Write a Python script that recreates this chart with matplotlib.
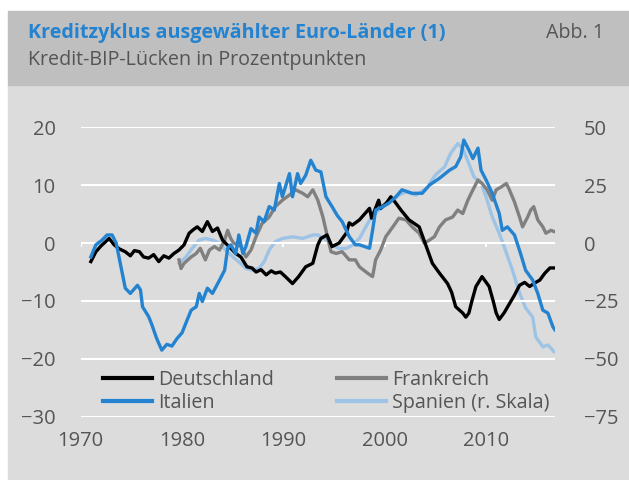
import matplotlib
matplotlib.use('Agg')
import matplotlib.pyplot as plt
from matplotlib.patches import Rectangle

plt.rcParams['font.family'] = ['Open Sans', 'DejaVu Sans']

# Kredit-BIP-Luecken (Prozentpunkte)
de_years = [1971.0, 1971.5, 1972.0, 1972.5, 1972.8, 1973.3, 1973.8, 1974.4, 1974.9, 1975.3,
            1975.8, 1976.2, 1976.7, 1977.2, 1977.7, 1978.2, 1978.7, 1979.2, 1979.7, 1980.2,
            1980.7, 1981.1, 1981.5, 1982.0, 1982.5, 1983.0, 1983.5, 1984.0, 1984.8, 1985.3,
            1985.8, 1986.4, 1986.9, 1987.3, 1987.8, 1988.3, 1988.8, 1989.2, 1989.7, 1990.2,
            1990.9, 1991.5, 1992.2, 1992.9, 1993.4, 1993.7, 1994.3, 1994.8, 1995.5, 1996.2,
            1996.5, 1996.8, 1997.5, 1998.0, 1998.5, 1998.7, 1999.4, 1999.6, 2000.2, 2000.6,
            2001.1, 2001.6, 2002.4, 2003.4, 2004.1, 2004.7, 2005.4, 2006.2, 2006.6, 2007.0,
            2007.7, 2008.0, 2008.3, 2008.6, 2009.0, 2009.6, 2010.3, 2010.7, 2011.0, 2011.3,
            2011.8, 2012.3, 2012.8, 2013.3, 2013.8, 2014.3, 2014.8, 2015.3, 2015.8, 2016.3,
            2016.8]
de_vals = [-3.2, -1.5, -0.5, 0.3, 0.8, -0.3, -1.0, -1.5, -2.2, -1.3,
           -1.5, -2.4, -2.6, -2.0, -3.2, -2.2, -2.6, -1.8, -1.2, -0.3,
           1.7, 2.3, 2.8, 2.0, 3.7, 2.0, 2.6, 0.5, -0.9, -1.8,
           -2.4, -4.1, -4.3, -5.0, -4.6, -5.5, -4.8, -5.2, -5.0, -5.8,
           -7.0, -5.8, -4.1, -3.5, -0.3, 0.8, 1.4, -0.6, 0.0, 1.7,
           3.5, 3.1, 4.0, 5.0, 6.0, 4.3, 7.4, 6.0, 7.0, 8.0,
           6.9, 5.7, 4.0, 2.8, -0.6, -3.5, -5.2, -7.0, -8.5, -11.0,
           -12.1, -12.8, -12.1, -10.0, -7.5, -5.8, -7.5, -10.0, -12.1, -13.2,
           -12.0, -10.5, -9.0, -7.3, -6.8, -7.5, -6.9, -6.4, -5.2, -4.3,
           -4.3]

it_years = [1971.0, 1971.5, 1972.1, 1972.6, 1973.1, 1973.5, 1973.8, 1974.1, 1974.4, 1974.9,
            1975.6, 1975.9, 1976.1, 1976.7, 1977.0, 1977.5, 1978.0, 1978.5, 1979.0, 1979.5,
            1980.0, 1980.5, 1980.9, 1981.4, 1981.7, 1982.0, 1982.5, 1983.0, 1983.7, 1984.2,
            1984.5, 1984.8, 1985.3, 1985.6, 1986.0, 1986.3, 1986.8, 1987.3, 1987.6, 1988.1,
            1988.6, 1989.1, 1989.6, 1989.9, 1990.6, 1990.9, 1991.4, 1991.7, 1992.2, 1992.7,
            1993.2, 1993.7, 1994.2, 1994.8, 1995.3, 1995.8, 1996.5, 1997.1, 1997.5, 1998.5,
            1998.8, 1999.1, 1999.8, 2000.4, 2001.1, 2001.7, 2002.7, 2003.7, 2004.4, 2005.4,
            2006.4, 2007.0, 2007.5, 2007.8, 2008.3, 2008.7, 2009.2, 2009.5, 2010.0, 2010.6,
            2011.3, 2011.6, 2012.1, 2012.8, 2013.4, 2013.9, 2014.6, 2015.1, 2015.6, 2016.1,
            2016.6, 2016.8]
it_vals = [-2.4, -0.3, 0.5, 1.4, 1.4, 0.0, -2.6, -5.2, -7.8, -8.7,
           -7.3, -8.1, -11.0, -12.7, -14.0, -16.5, -18.5, -17.5, -17.8, -16.5,
           -15.5, -13.3, -11.6, -11.0, -8.7, -10.1, -7.8, -8.7, -6.4, -4.7,
           -0.9, -0.3, -1.8, 1.4, -1.8, -0.6, 2.5, 1.7, 4.5, 3.7,
           6.3, 5.7, 10.3, 8.0, 12.0, 8.0, 12.0, 10.3, 11.7, 14.3,
           12.6, 12.3, 8.0, 6.3, 4.8, 3.7, 1.1, -0.3, -0.3, -0.9,
           2.2, 5.7, 6.3, 6.9, 8.0, 9.2, 8.6, 8.6, 10.0, 11.2,
           12.6, 13.2, 14.9, 17.8, 16.1, 14.6, 16.4, 12.6, 10.9, 8.6,
           5.1, 2.2, 2.8, 1.4, -1.8, -4.7, -6.4, -8.7, -11.6, -12.1,
           -14.5, -15.0]

fr_years = [1979.7, 1979.9, 1980.2, 1980.9, 1981.4, 1981.8, 1982.3, 1982.7, 1983.2, 1983.7,
            1984.2, 1984.5, 1984.8, 1985.1, 1985.8, 1986.3, 1986.8, 1987.3, 1987.9, 1988.6,
            1989.2, 1989.9, 1990.6, 1991.2, 1991.9, 1992.4, 1992.9, 1993.4, 1993.9, 1994.2,
            1994.7, 1995.2, 1995.8, 1996.5, 1997.1, 1997.5, 1998.3, 1998.8, 1999.1, 1999.6,
            2000.1, 2000.8, 2001.4, 2002.1, 2002.7, 2003.4, 2003.9, 2004.4, 2004.9, 2005.4,
            2006.0, 2006.7, 2007.2, 2007.7, 2008.2, 2008.7, 2009.2, 2009.6, 2010.1, 2010.6,
            2011.0, 2011.5, 2012.0, 2012.3, 2012.8, 2013.3, 2013.6, 2014.1, 2014.4, 2014.7,
            2015.1, 2015.6, 2015.9, 2016.4, 2016.7]
fr_vals = [-2.9, -4.4, -3.5, -2.4, -1.8, -0.9, -2.9, -1.2, -0.6, -1.2,
           0.5, 2.2, 0.8, 0.0, -0.6, -2.4, -1.2, 1.1, 3.4, 4.5,
           6.3, 7.4, 8.3, 9.2, 8.6, 8.0, 9.2, 7.4, 4.5, 2.2,
           -1.5, -1.8, -1.5, -2.9, -2.9, -4.1, -5.2, -5.8, -2.9, -1.2,
           1.1, 2.8, 4.3, 4.0, 2.8, 1.7, 0.0, 0.5, 1.1, 2.8,
           4.0, 4.5, 5.7, 5.1, 7.4, 9.2, 10.9, 10.3, 9.2, 7.4,
           9.2, 9.7, 10.3, 9.2, 7.1, 4.5, 2.8, 4.5, 5.7, 6.3,
           4.0, 2.8, 1.7, 2.2, 2.0]

# Spanien auf rechter Skala
es_years = [1979.7, 1980.4, 1981.0, 1981.7, 1982.3, 1983.0, 1983.7, 1984.3, 1985.0, 1985.6,
            1986.3, 1986.9, 1987.6, 1988.1, 1988.6, 1989.2, 1989.9, 1990.9, 1991.9, 1992.9,
            1993.4, 1994.2, 1994.8, 1995.5, 1996.2, 1996.8, 1997.5, 1998.5, 1999.4, 2000.4,
            2001.4, 2002.1, 2003.1, 2004.1, 2005.0, 2005.9, 2006.5, 2007.2, 2007.7, 2008.3,
            2008.8, 2009.5, 2010.0, 2010.6, 2011.3, 2011.9, 2012.6, 2013.3, 2013.9, 2014.6,
            2014.9, 2015.6, 2016.1, 2016.7]
es_vals = [-8.8, -5.9, -2.3, 1.3, 2.0, 1.3, 0.0, -3.0, -5.9, -8.1,
           -10.9, -11.7, -10.9, -8.1, -3.0, 0.6, 2.0, 2.7, 2.0, 3.5,
           3.5, 1.3, -0.9, -2.3, -2.3, -0.9, 2.0, 9.9, 14.2, 17.1,
           20.7, 22.1, 20.7, 23.6, 29.4, 32.9, 38.7, 43.0, 40.9, 34.4,
           28.6, 25.8, 20.0, 11.4, 4.2, -3.0, -11.7, -21.5, -28.0, -32.0,
           -40.5, -44.8, -44.0, -46.9]

decades = [1970, 1980, 1990, 2000, 2010]
left_ticks = [20, 10, 0, -10, -20, -30]
right_ticks = [50, 25, 0, -25, -50, -75]

fig = plt.figure(figsize=(6.29, 4.8), dpi=100)
fig.patches.append(Rectangle((8/629.0, 0), 1, (480-85)/480.0, transform=fig.transFigure,
                             color='#dcdcdc', zorder=-10))
fig.patches.append(Rectangle((8/629.0, (480-85)/480.0), 1, 74/480.0, transform=fig.transFigure,
                             color='#bfbfbf', zorder=-10))
fig.text(28/629.0, 1-33/480.0, 'Kreditzyklus ausgewählter Euro-Länder (1)', color='#2383d0',
         fontsize=14.2, fontweight='bold', va='center', ha='left')
fig.text(28/629.0, 1-60/480.0, 'Kredit-BIP-Lücken in Prozentpunkten', color='#555555',
         fontsize=14.2, va='center', ha='left')
fig.text(604/629.0, 1-33/480.0, 'Abb. 1', color='#555555', fontsize=14.2, va='center', ha='right')

ax = fig.add_axes([80.7/629, 1-416.7/480, (555-80.7)/629, (416.7-127.3)/480])
ax.set_facecolor('none')
ax2 = ax.twinx()

ax.set_xlim(1970, 2016.8)
ax.set_ylim(-30, 20)
ax2.set_ylim(-75, 50)

for y in left_ticks:
    ax.axhline(y, color='white', lw=1.5, zorder=0)
ax.vlines(decades, -0.7, 0, color='white', lw=1.5, zorder=0)

l1, = ax.plot(de_years, de_vals, color='black', lw=2.4, zorder=3)
l2, = ax.plot(fr_years, fr_vals, color='#808080', lw=2.4, zorder=2)
l3, = ax.plot(it_years, it_vals, color='#2383d0', lw=2.4, zorder=4)
l4, = ax2.plot(es_years, es_vals, color='#9dc3e6', lw=2.4)
ax.set_zorder(2)
ax2.set_zorder(1)
ax.patch.set_visible(False)

ax.set_yticks(left_ticks)
ax2.set_yticks(right_ticks)
ax.set_xticks(decades)
for a in (ax, ax2):
    for s in a.spines.values():
        s.set_visible(False)
    a.tick_params(length=0, labelsize=14.5, labelcolor='#555555')
ax.tick_params(axis='y', pad=18)
ax2.tick_params(axis='y', pad=21)
ax.tick_params(axis='x', pad=10)

# Spaltenweise: links Deutschland/Italien, rechts Frankreich/Spanien
leg = ax.legend([l1, l3, l2, l4], ['Deutschland', 'Italien', 'Frankreich', 'Spanien (r. Skala)'],
                ncol=2, loc='lower left', bbox_to_anchor=(0.03, -0.015), frameon=False,
                fontsize=14.2, handlelength=2.5, handletextpad=0.3, columnspacing=3.2,
                labelspacing=0.18, borderaxespad=0)
for t in leg.get_texts():
    t.set_color('#555555')
for h in leg.get_lines():
    h.set_linewidth(3)

plt.savefig('out.png', dpi=100)
